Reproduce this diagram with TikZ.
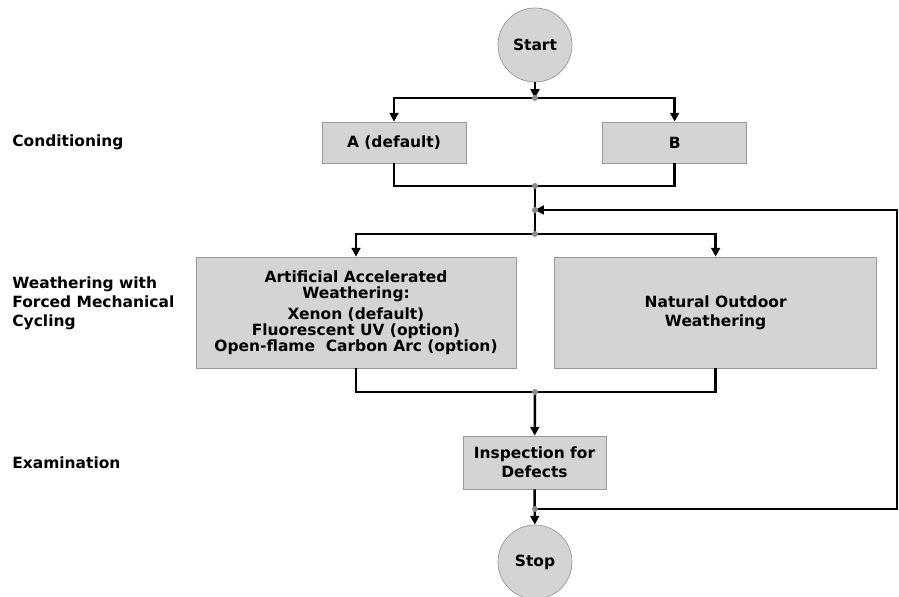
\documentclass[tikz,border=0pt]{standalone}
\usepackage{fontspec}
\setmainfont{DejaVu Sans}
\usetikzlibrary{arrows.meta,positioning}

\begin{document}
\begin{tikzpicture}[
    x=0.02cm, y=-0.02cm,
    font=\bfseries\fontsize{8.8}{10.6}\selectfont,
    term/.style={circle, draw=black!40, fill=black!17, minimum size=1.48cm, inner sep=0pt},
    proc/.style={rectangle, draw=black!40, fill=black!17, align=center, inner sep=0pt},
    stage/.style={anchor=west, align=left, inner sep=0pt, font=\bfseries\fontsize{8.8}{10.8}\selectfont},
    line/.style={line width=1.4pt},
    arrow/.style={line, -{Triangle[length=5pt, width=5pt]}},
    dot/.style={fill=black!45}
]
    \useasboundingbox (0,0) rectangle (899,597);

    % Terminals
    \node[term] (start) at (535,45) {Start};
    \node[term] (stop) at (535,562) {Stop};

    % Row 1: Conditioning
    \node[proc, minimum width=2.88cm, minimum height=0.82cm] (A) at (394,142.5) {A (default)};
    \node[proc, minimum width=2.88cm, minimum height=0.82cm, right=2.72cm of A] (B) {B};

    % Row 2: Weathering
    \node[proc, minimum width=6.4cm, minimum height=2.22cm, font=\bfseries\fontsize{8.8}{9.1}\selectfont] (art) at (356,312.5)
        {Artificial Accelerated\\Weathering:\\[2.8pt]Xenon (default)\\Fluorescent UV (option)\\Open-flame\ \ Carbon Arc (option)};
    \node[proc, minimum width=6.44cm, minimum height=2.22cm, right=0.76cm of art] (nat) {Natural Outdoor\\Weathering};

    % Row 3: Examination
    \node[proc, minimum width=2.86cm, minimum height=1.06cm] (insp) at (534.5,462.5) {Inspection for\\Defects};

    % Stage labels
    \node[stage] (cond) at (12,142.5) {Conditioning};
    \node[stage] (weath) at (12,303) {Weathering with\\Forced Mechanical\\Cycling};
    \node[stage] (exam) at (12,462.5) {Examination};

    % Junctions
    \coordinate (j1) at (535,98);
    \coordinate (j2) at (535,186);
    \coordinate (j3) at (535,210);
    \coordinate (j4) at (535,234);
    \coordinate (j5) at (535,392);
    \coordinate (j6) at (535,509);
    \coordinate (fb) at (897,210);

    % Arrows
    \draw[arrow] (start) -- (j1);
    \draw[arrow] (j1) -| (A);
    \draw[arrow] (j1) -| (B);
    \draw[line] (A) |- (j2) -| (B);
    \draw[line] (j2) -- (j4);
    \draw[arrow] (j4) -| (art);
    \draw[arrow] (j4) -| (nat);
    \draw[line] (art) |- (j5) -| (nat);
    \draw[arrow] (j5) -- (insp);
    \draw[arrow] (insp) -- (stop);
    \draw[arrow] (j6) -| (fb) -- (j3);

    \foreach \j in {j1,j2,j3,j4,j5,j6}
        \fill[dot] (\j) circle (1.7pt);
\end{tikzpicture}
\end{document}
